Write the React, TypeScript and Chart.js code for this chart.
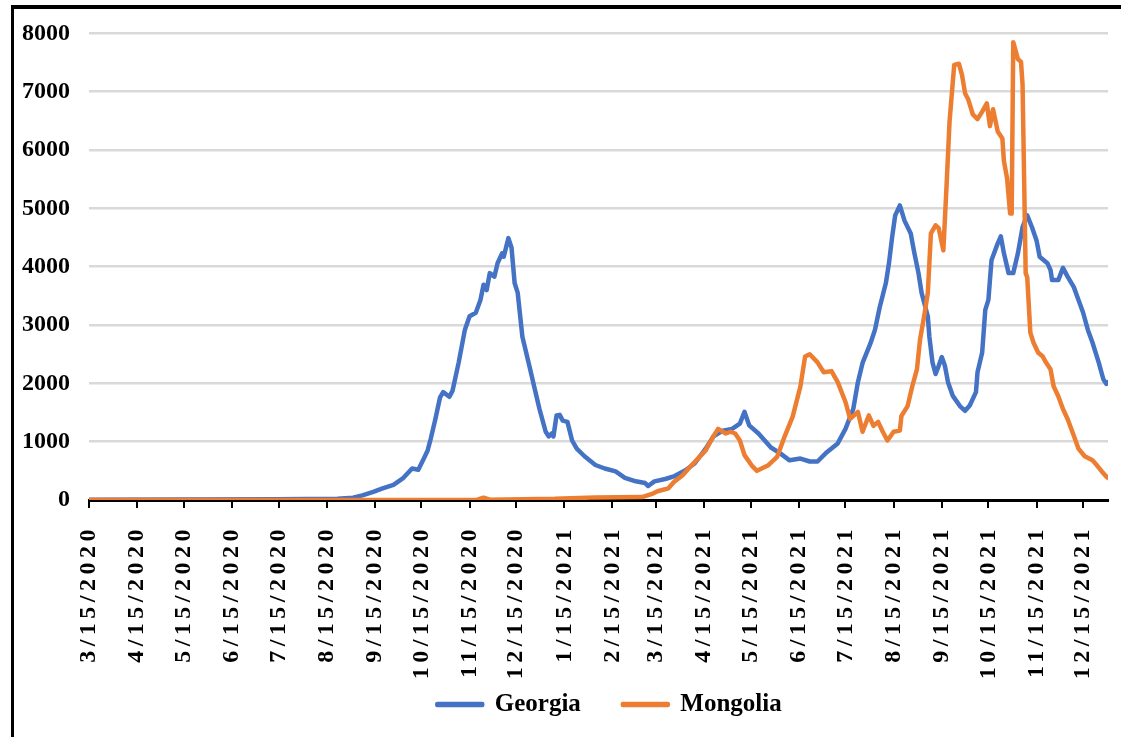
import React, { useEffect, useRef } from 'react';
import { Chart, registerables } from 'chart.js';

Chart.register(...registerables);

// ---- data ----
const startDate = '3/15/2020';
const endDate = '12/31/2021';
const tickLabels = [
  '3/15/2020', '4/15/2020', '5/15/2020', '6/15/2020', '7/15/2020', '8/15/2020',
  '9/15/2020', '10/15/2020', '11/15/2020', '12/15/2020', '1/15/2021', '2/15/2021',
  '3/15/2021', '4/15/2021', '5/15/2021', '6/15/2021', '7/15/2021', '8/15/2021',
  '9/15/2021', '10/15/2021', '11/15/2021', '12/15/2021',
];
const yMin = 0;
const yMax = 8000;
const yStep = 1000;

// day offsets from 3/15/2020
const georgiaDays = [
  0, 60, 120, 160, 170, 176, 183, 189, 196, 202, 208, 212, 215, 218, 220, 223, 226, 228, 232, 234,
  238, 242, 245, 249, 252, 254, 256, 258, 261, 263, 266, 267, 270, 272, 274, 276, 279, 284, 287, 290,
  294, 296, 298, 299, 301, 303, 305, 308, 311, 314, 319, 326, 332, 339, 345, 352, 358, 360, 364, 371,
  377, 384, 390, 397, 402, 408, 414, 419, 422, 425, 431, 439, 445, 451, 458, 464, 469, 475, 482, 487,
  492, 495, 498, 503, 506, 509, 513, 515, 517, 519, 522, 525, 529, 531, 534, 536, 540, 541, 543, 545,
  547, 549, 551, 553, 556, 561, 564, 567, 571, 572, 575, 577, 579, 581, 585, 587, 589, 592, 595, 598,
  601, 604, 607, 610, 612, 617, 619, 620, 624, 627, 630, 634, 637, 640, 643, 646, 650, 653, 655, 656,
];
const georgiaCases = [
  5, 10, 15, 20, 40, 80, 140, 200, 260, 370, 540, 520, 680, 850, 1050, 1390, 1760, 1850, 1770, 1870,
  2360, 2920, 3150, 3210, 3430, 3690, 3600, 3890, 3830, 4060, 4230, 4170, 4490, 4330, 3720, 3550, 2800, 2240, 1900, 1560,
  1170, 1090, 1140, 1090, 1450, 1460, 1360, 1340, 1020, 880, 750, 600, 540, 490, 380, 320, 290, 240, 320, 360,
  410, 510, 630, 880, 1090, 1190, 1220, 1310, 1510, 1280, 1140, 900, 800, 680, 710, 660, 660, 820, 970, 1220,
  1560, 2020, 2350, 2680, 2920, 3300, 3720, 4060, 4500, 4880, 5050, 4790, 4570, 4280, 3890, 3550, 3150, 2800, 2360, 2160,
  2300, 2450, 2300, 2020, 1790, 1600, 1530, 1620, 1850, 2190, 2530, 3260, 3430, 4110, 4400, 4520, 4230, 3890, 3890, 4230,
  4680, 4880, 4680, 4450, 4170, 4060, 3940, 3770, 3770, 3980, 3830, 3650, 3430, 3210, 2920, 2700, 2360, 2070, 1990, 2020,
];

const mongoliaDays = [
  0, 240, 250, 254, 258, 300, 326, 356, 363, 366, 373, 377, 382, 386, 392, 397, 401, 405, 410, 413,
  416, 419, 422, 427, 430, 437, 443, 448, 453, 458, 461, 464, 469, 473, 478, 482, 487, 490, 495, 498,
  502, 505, 508, 511, 514, 518, 522, 523, 527, 530, 533, 535, 538, 540, 542, 545, 547, 550, 552, 554,
  557, 560, 562, 564, 566, 569, 572, 575, 578, 580, 582, 585, 588, 589, 591, 593, 594, 595, 598, 600,
  601, 603, 604, 606, 608, 611, 614, 616, 619, 621, 624, 627, 630, 634, 637, 641, 646, 649, 652, 655, 656,
];
const mongoliaCases = [
  0, 0, 5, 40, 5, 20, 45, 50, 110, 150, 200, 320, 420, 540, 710, 850, 1050, 1220, 1140, 1170,
  1140, 1020, 770, 580, 500, 590, 740, 1100, 1430, 1950, 2460, 2500, 2360, 2190, 2210, 2020, 1680, 1390, 1510, 1170,
  1450, 1270, 1340, 1170, 1020, 1170, 1190, 1440, 1610, 1950, 2240, 2750, 3210, 3550, 4570, 4710, 4660, 4280, 5350, 6490,
  7460, 7480, 7290, 6970, 6870, 6610, 6530, 6660, 6800, 6410, 6700, 6320, 6200, 5810, 5520, 4910, 4910, 7850, 7560, 7510,
  7120, 3890, 3820, 2870, 2700, 2530, 2460, 2360, 2240, 1950, 1780, 1560, 1390, 1100, 880, 750, 680, 590, 490, 400, 380,
];

// ---- helpers ----
const toUTC = (s: string) => {
  const [m, d, y] = s.split('/').map(Number);
  return Date.UTC(y, m - 1, d);
};
const START = toUTC(startDate);
const dayOf = (s: string) => Math.round((toUTC(s) - START) / 86400000);
const tickDays = tickLabels.map(dayOf);
const lastDay = dayOf(endDate);

const FONT = "'Liberation Serif', 'Times New Roman', serif";

const tweaks = {
  id: 'tweaks',
  afterLayout(chart: any) {
    const lg = chart.legend;
    if (lg) {
      lg.left += 11;
      lg.right += 11;
    }
  },
  beforeDraw(chart: any) {
    const s = chart.scales.x;
    if (s && !s.__patched) {
      const orig = s.drawLabels.bind(s);
      s._computeLabelArea = () => undefined;
      s.drawLabels = (area: any) => {
        const ctx = chart.ctx as any;
        ctx.save();
        ctx.letterSpacing = '4.5px';
        orig(area);
        ctx.restore();
      };
      s.__patched = true;
    }
  },
};

export default function App() {
  const ref = useRef<HTMLCanvasElement | null>(null);

  useEffect(() => {
    if (!ref.current) return;
    const toPts = (days: number[], vals: number[]) => days.map((d, i) => ({ x: d, y: vals[i] }));
    const chart = new Chart(ref.current, {
      type: 'line',
      data: {
        datasets: [
          {
            label: 'Georgia',
            data: toPts(georgiaDays, georgiaCases),
            borderColor: '#4472C4',
            backgroundColor: '#4472C4',
            borderWidth: 4.5,
            pointRadius: 0,
            tension: 0,
            borderJoinStyle: 'round',
            borderCapStyle: 'round',
            order: 1,
          },
          {
            label: 'Mongolia',
            data: toPts(mongoliaDays, mongoliaCases),
            borderColor: '#ED7D31',
            backgroundColor: '#ED7D31',
            borderWidth: 4.5,
            pointRadius: 0,
            tension: 0,
            borderJoinStyle: 'round',
            borderCapStyle: 'round',
            order: 0,
          },
        ],
      },
      options: {
        animation: false,
        responsive: false,
        maintainAspectRatio: false,
        parsing: false as any,
        layout: { padding: { top: 31, left: 0, right: 13, bottom: 10 } },
        plugins: {
          tooltip: { enabled: false },
          legend: {
            position: 'bottom',
            fullSize: false,
            labels: {
              boxWidth: 45,
              boxHeight: 1,
              padding: 42,
              color: '#000',
              font: { family: FONT, size: 25, weight: 'bold' },
              sort: (a: any, b: any) => a.datasetIndex - b.datasetIndex,
            },
          },
        },
        scales: {
          x: {
            type: 'linear',
            min: 0,
            max: lastDay,
            afterBuildTicks: (scale: any) => {
              scale.ticks = tickDays.map((v) => ({ value: v }));
            },
            afterFit: (scale: any) => {
              scale.height = 150;
              scale.paddingLeft = 0;
              scale.paddingRight = 0;
            },
            grid: {
              display: true,
              drawOnChartArea: false,
              drawTicks: true,
              tickLength: 8,
              color: '#000',
              lineWidth: 2,
            },
            border: { display: true, color: '#000', width: 3 },
            ticks: {
              autoSkip: false,
              minRotation: 90,
              maxRotation: 90,
              padding: 17,
              color: '#000',
              font: { family: FONT, size: 24, weight: 'bold' },
              callback: (v: any) => {
                const i = tickDays.indexOf(Number(v));
                return i >= 0 ? tickLabels[i] : '';
              },
            },
          },
          y: {
            min: yMin,
            max: yMax,
            afterFit: (scale: any) => {
              scale.width = 89;
            },
            grid: { color: '#d9d9d9', lineWidth: 2.5, drawTicks: false },
            border: { display: false },
            ticks: {
              stepSize: yStep,
              padding: 19,
              color: '#000',
              font: { family: FONT, size: 24, weight: 'bold' },
              callback: (v: any) => String(v),
            },
          },
        },
      },
      plugins: [tweaks],
    });
    return () => chart.destroy();
  }, []);

  return (
    <div style={{ position: 'fixed', left: 0, top: 0, width: 1121, height: 737, overflow: 'hidden', background: '#fff' }}>
      <canvas ref={ref} width={1121} height={737} style={{ position: 'absolute', left: 0, top: 0, display: 'block' }} />
      <div
        style={{
          position: 'absolute',
          left: 11,
          top: 5,
          width: 1300,
          height: 1000,
          borderLeft: '3px solid #000',
          borderTop: '4px solid #000',
          pointerEvents: 'none',
        }}
      />
    </div>
  );
}
